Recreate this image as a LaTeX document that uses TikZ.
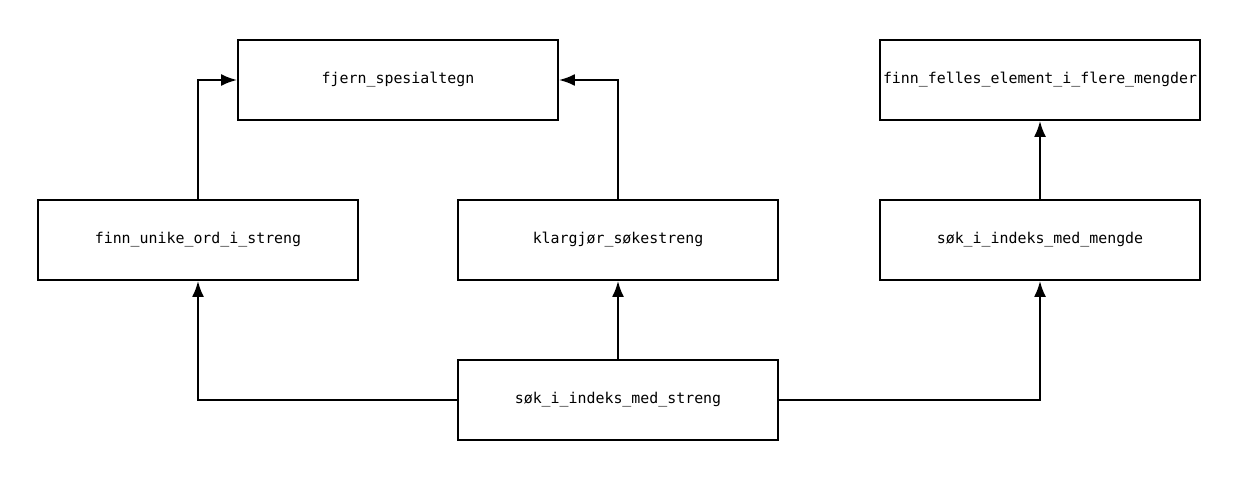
\documentclass[tikz,border=0pt]{standalone}
\usepackage{fontspec}
\setmonofont{DejaVu Sans Mono}
\usetikzlibrary{arrows.meta}
\tikzset{
  fn/.style = {draw, line width=1.4pt, inner sep=0pt, minimum width=8cm, minimum height=2cm,
               font=\ttfamily\fontsize{10.6}{12}\selectfont},
  call/.style = {line width=1.4pt, -{Latex[length=4mm,width=3mm]}}
}
\begin{document}
\begin{tikzpicture}
    \useasboundingbox (0,0) rectangle (31,12);
    \node[fn] (fjern)  at (9.95,10) {fjern\_spesialtegn};
    \node[fn] (felles) at (26,10)   {finn\_felles\_element\_i\_flere\_mengder};
    \node[fn] (unike)  at (4.95,6)  {finn\_unike\_ord\_i\_streng};
    \node[fn] (klar)   at (15.45,6) {klargjør\_søkestreng};
    \node[fn] (mengde) at (26,6)    {søk\_i\_indeks\_med\_mengde};
    \node[fn] (streng) at (15.45,2) {søk\_i\_indeks\_med\_streng};
    \draw[call] (unike.north) |- (fjern.west);
    \draw[call] (klar.north) |- (fjern.east);
    \draw[call] (mengde) -- (felles);
    \draw[call] (streng.west) -| (unike.south);
    \draw[call] (streng) -- (klar);
    \draw[call] (streng.east) -| (mengde.south);
  \end{tikzpicture}
\end{document}
